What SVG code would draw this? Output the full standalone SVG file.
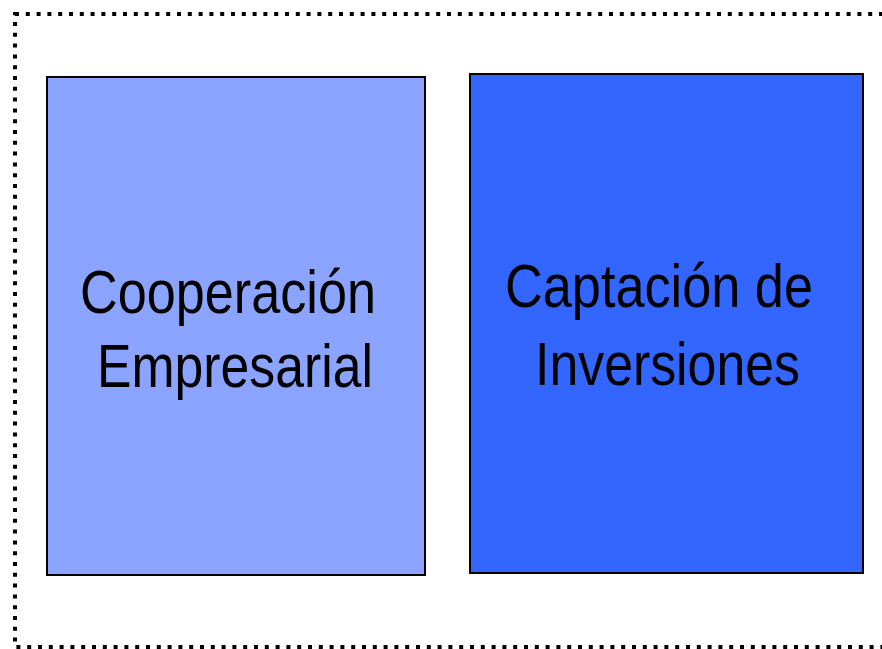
<svg xmlns="http://www.w3.org/2000/svg" width="882" height="649" viewBox="0 0 882 649">
<style>
.frame{fill:none;stroke:#000;stroke-width:4;stroke-dasharray:4 6.8}
.box{stroke:#000;stroke-width:2}
.lbl{font-family:"Liberation Sans",Arial,sans-serif;font-size:61px;fill:#000}
</style>
<rect width="882" height="649" fill="#fff"/>
<rect class="frame" x="15" y="14" width="885" height="633"/>
<g id="cooperacion">
<rect class="box" x="47" y="77" width="378" height="498" fill="#8AA4FF"/>
<text class="lbl" x="80" y="313" textLength="296" lengthAdjust="spacingAndGlyphs">Cooperación</text>
<text class="lbl" x="97" y="387" textLength="276" lengthAdjust="spacingAndGlyphs">Empresarial</text>
</g>
<g id="captacion">
<rect class="box" x="470" y="74" width="393" height="499" fill="#3366FF"/>
<text class="lbl" x="505" y="307" textLength="308" lengthAdjust="spacingAndGlyphs">Captación de</text>
<text class="lbl" x="535" y="385" textLength="265" lengthAdjust="spacingAndGlyphs">Inversiones</text>
</g>
<g id="connectors"></g>
</svg>
